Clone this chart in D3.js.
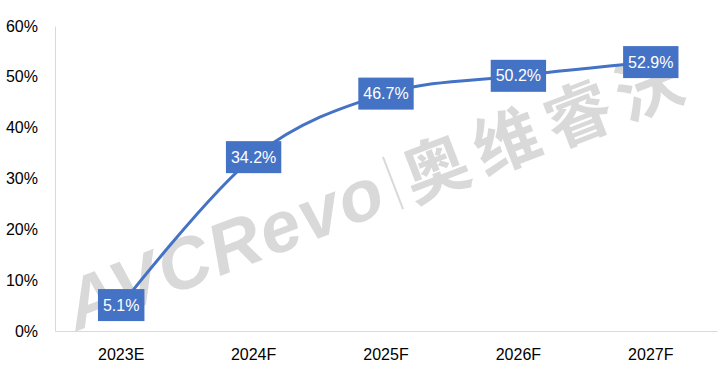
<!DOCTYPE html>
<html><head><meta charset="utf-8">
<script src="https://cdn.jsdelivr.net/npm/d3@7/dist/d3.min.js"></script>
<style>body{margin:0;background:#fff}svg{display:block;font-family:Arial,"Liberation Sans",sans-serif}</style>
</head><body><svg id="c" width="720" height="374"></svg>
<script>
const categories = ["2023E","2024F","2025F","2026F","2027F"];
const values = [0.051, 0.342, 0.467, 0.502, 0.529];
const labels = ["5.1%","34.2%","46.7%","50.2%","52.9%"];
const yTicks = [0,0.1,0.2,0.3,0.4,0.5,0.6];

const svg = d3.select("#c");
const W=720,H=374, m={l:55,r:3,t:26,b:43};
const x = d3.scaleBand().domain(categories).range([m.l,W-m.r]);
const y = d3.scaleLinear().domain([0,0.6]).range([H-m.b,m.t]);

// watermark
const wm = svg.append("g").attr("transform","translate(393,183) rotate(-21)").attr("fill","#d9d9d9");
wm.append("text").attr("x",-12).attr("y",25).attr("text-anchor","end")
  .attr("font-family","Arial, 'Liberation Sans', sans-serif").attr("font-weight","bold").attr("font-style","italic")
  .attr("font-size",72).attr("letter-spacing",2).text("AVCRevo");
wm.append("line").attr("x1",0).attr("x2",0).attr("y1",-28).attr("y2",28).attr("stroke","#d9d9d9").attr("stroke-width",2);
wm.append("text").attr("x",12).attr("y",26).attr("text-anchor","start")
  .attr("font-family","'Noto Sans CJK SC', sans-serif").attr("font-weight","bold")
  .attr("font-size",66).attr("letter-spacing",10).text("奥维睿沃");

// axes
const ya = svg.append("g").attr("transform",`translate(${m.l},0)`)
  .call(d3.axisLeft(y).tickValues(yTicks).tickFormat(d3.format(".0%")).tickSize(0).tickPadding(17));
ya.select(".domain").attr("stroke","#d9d9d9");
ya.selectAll("text").attr("font-size",16).attr("fill","#000").attr("font-family","Arial, 'Liberation Sans', sans-serif");

const xa = svg.append("g").attr("transform",`translate(0,${H-m.b})`)
  .call(d3.axisBottom(x).tickSize(0).tickPadding(18));
xa.select(".domain").attr("stroke","#d9d9d9");
xa.selectAll("text").attr("font-size",16).attr("fill","#000").attr("font-family","Arial, 'Liberation Sans', sans-serif");

// line
const pts = categories.map((c,i)=>[x(c)+x.bandwidth()/2, y(values[i])]);
svg.append("path").datum(pts).attr("fill","none").attr("stroke","#4472C4").attr("stroke-width",3)
  .attr("d", d3.line().curve(d3.curveCardinal.tension(0)));

// labels
const lg = svg.selectAll("g.lab").data(pts).join("g").attr("class","lab")
  .attr("transform",d=>`translate(${d[0]},${d[1]})`);
lg.each(function(d,i){
  const g=d3.select(this);
  const t=g.append("text").attr("text-anchor","middle").attr("dy","0.35em").attr("fill","#fff")
    .attr("font-size",16).text(labels[i]);
  const w=t.node().getComputedTextLength()+10;
  g.insert("rect","text").attr("x",-w/2).attr("y",-16).attr("width",w).attr("height",32).attr("fill","#4472C4");
});
</script></body></html>
